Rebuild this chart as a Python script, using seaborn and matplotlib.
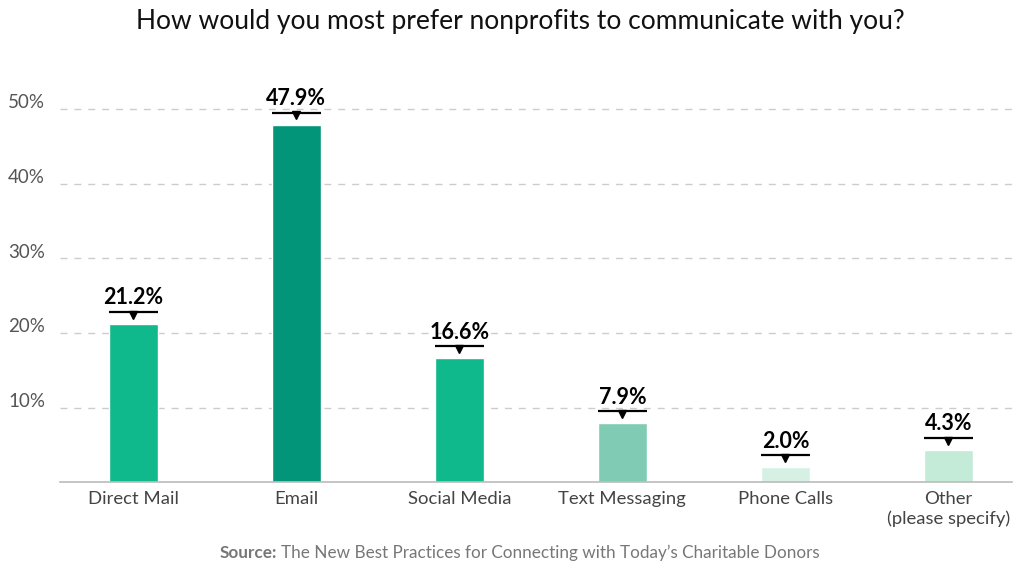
import numpy as np
import pandas as pd
import seaborn as sns
import matplotlib.pyplot as plt

# Chart data
channels = ['Direct Mail', 'Email', 'Social Media', 'Text Messaging',
            'Phone Calls', 'Other\n(please specify)']
shares = [21.2, 47.9, 16.6, 7.9, 2.0, 4.3]
bar_colors = ['#0fb98b', '#03957a', '#0fb98b', '#7fcbb4', '#d6f1e4', '#c3ebd8']
y_ticks = [10, 20, 30, 40, 50]
tick_labels = ['10%', '20%', '30%', '40%', '50%']

df = pd.DataFrame({'channel': channels, 'share': shares})

sns.set_style('white')
plt.rcParams['font.family'] = ['Lato', 'DejaVu Sans']

fig = plt.figure(figsize=(10.24, 5.7), dpi=100)
ax = fig.add_axes([0.0586, 0.154, 0.9297, 0.72])

sns.barplot(data=df, x='channel', y='share', hue='channel', palette=bar_colors,
            width=0.3, legend=False, ax=ax, saturation=1)

# value labels with a marker line and small down arrow
bw = 0.3
for i, v in enumerate(shares):
    y_line = v + 1.6
    ax.plot([i - bw / 2, i + bw / 2], [y_line, y_line], color='black', lw=1.6,
            solid_capstyle='butt', zorder=4)
    ax.plot(i, y_line - 0.35, marker='v', color='black', markersize=6, zorder=4)
    ax.text(i, y_line + 0.5, f'{v:.1f}%', ha='center', va='bottom',
            fontsize=15.5, fontweight='bold', color='black')

ax.set_xlim(-0.45, 5.39)
ax.set_ylim(0, 55)
ax.set_yticks(y_ticks)
ax.set_yticklabels([])
ax.yaxis.grid(True, linestyle=(0, (5, 5)), color='#cccccc', lw=1)
ax.set_axisbelow(True)
for y, lab in zip(y_ticks, tick_labels):
    ax.text(-0.0546, y + 0.1, lab, transform=ax.get_yaxis_transform(),
            ha='left', va='baseline', fontsize=13.5, color='#555555')
ax.tick_params(axis='y', length=0)
ax.tick_params(axis='x', length=0, labelsize=13.3, labelcolor='#444444', pad=6)
ax.set_xlabel('')
ax.set_ylabel('')
sns.despine(ax=ax, left=True)
ax.spines['bottom'].set_color('#bbbbbb')
ax.spines['bottom'].set_linewidth(1.2)
for lab in ax.get_xticklabels():
    lab.set_linespacing(1.25)

fig.text(0.508, 0.962, 'How would you most prefer nonprofits to communicate with you?',
         ha='center', va='center', fontsize=19, color='#111111')

src = fig.text(0.214, 0.03, 'Source:', ha='left', va='center', fontsize=12.3,
               fontweight='bold', color='#777777')
ax.annotate('The New Best Practices for Connecting with Today\u2019s Charitable Donors',
            xy=(1, 0.5), xycoords=src, xytext=(3, 0), textcoords='offset points',
            ha='left', va='center', fontsize=12.3, color='#777777',
            annotation_clip=False)

fig.savefig('out.png', dpi=100)
